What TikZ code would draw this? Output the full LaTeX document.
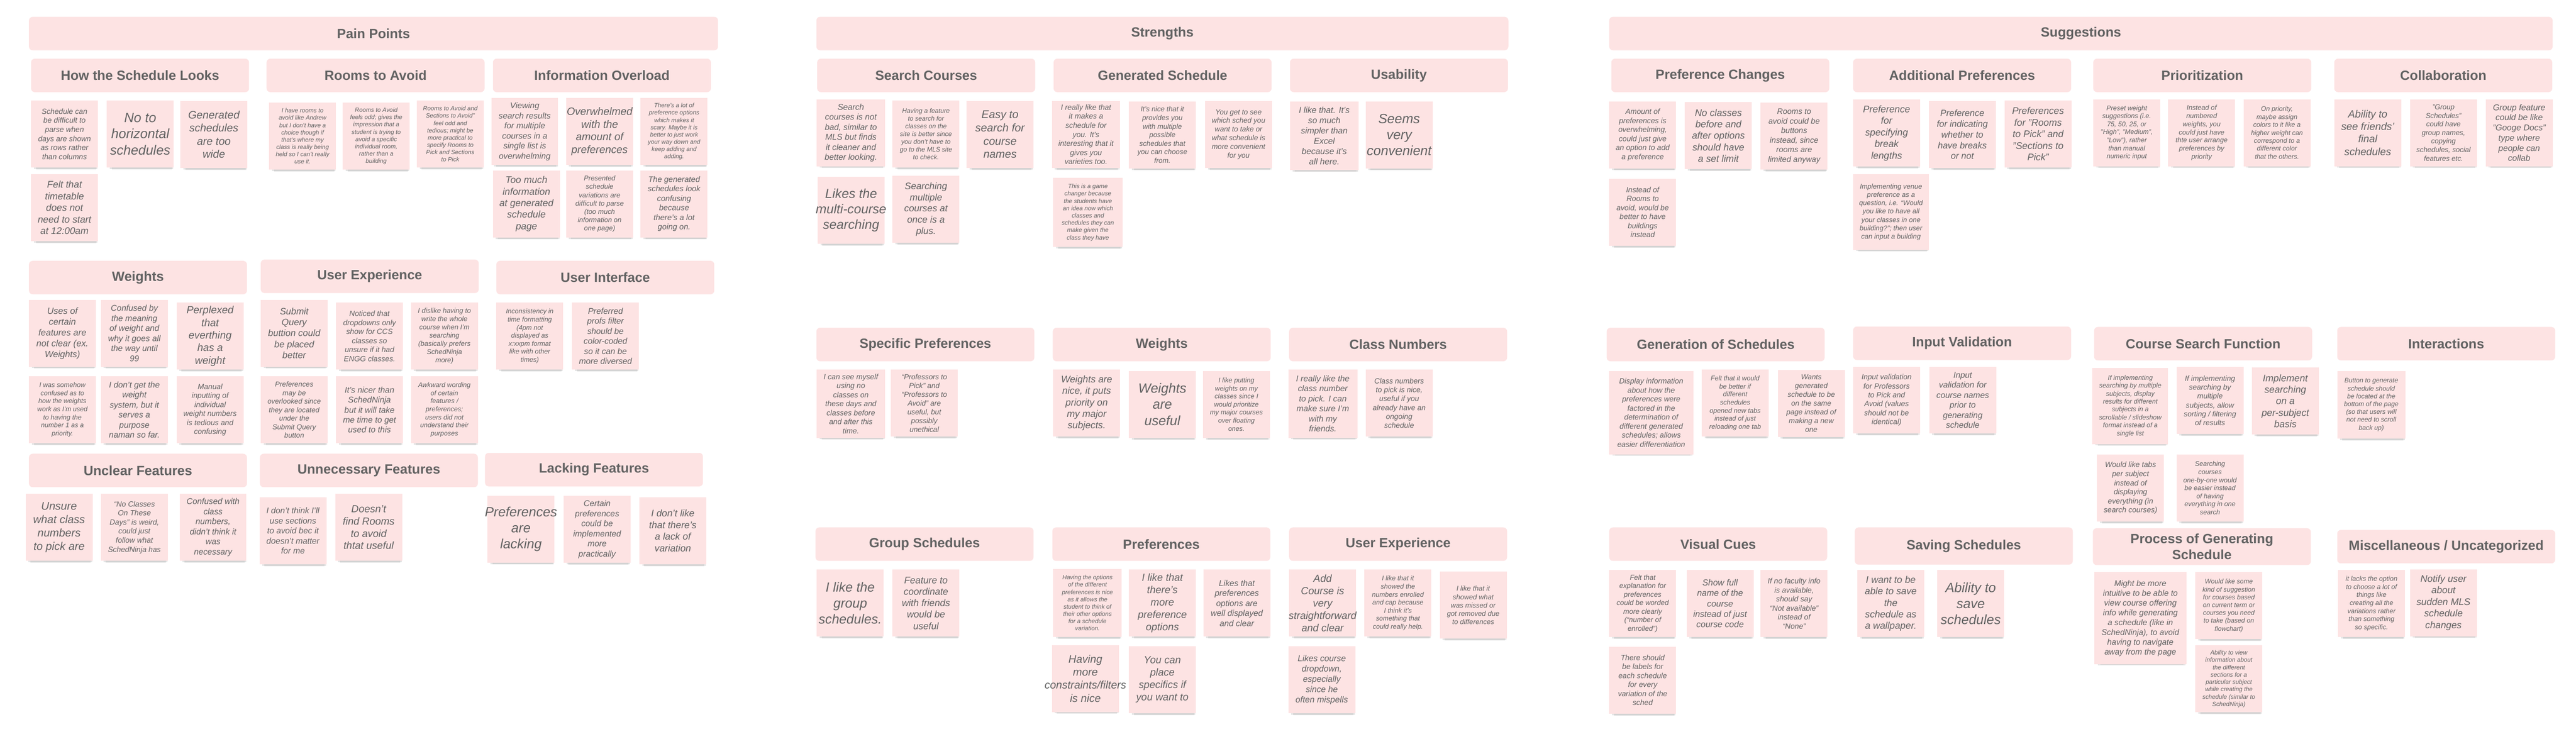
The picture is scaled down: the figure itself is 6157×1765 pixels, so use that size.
\documentclass[tikz,border=0pt]{standalone}
\usepackage{fontspec}
\setmainfont{Liberation Sans}
\usepackage{xcolor}
\usetikzlibrary{shadows}
\usetikzlibrary{positioning}
\definecolor{notepink}{RGB}{253,227,227}
\definecolor{inkgray}{RGB}{98,98,98}
\newcommand{\txtsize}[1]{\fontsize{#1}{\fpeval{1.2*#1}}\selectfont}
\newcommand{\wide}[1]{\makebox[0pt]{#1}}

\begin{document}
\begin{tikzpicture}[line cap=round,line join=round,x=1pt,y=-1pt,
  topic/.style={anchor=north west, fill=notepink, rounded corners=9pt, minimum width=521pt, minimum height=80pt, inner sep=0pt, align=center, text=inkgray, font=\bfseries\txtsize{32}},
  sticky/.style={anchor=north west, fill=notepink, minimum width=160pt, minimum height=160pt, inner sep=0pt, align=center, text=inkgray, font=\itshape\txtsize{#1},
    drop shadow={shadow xshift=3pt, shadow yshift=-8pt, shadow scale=0.95, opacity=0.10, fill=black},
    drop shadow={shadow xshift=4pt, shadow yshift=-14pt, shadow scale=0.9, opacity=0.08, fill=black}},
  sticky/.default=18]
\fill[white] (0,0) rectangle (6157,1765);
\useasboundingbox (0,0) rectangle (6157,1765);

\node[topic, minimum width=1647pt] (pain) at (69,40) {Pain Points};
\node[topic, minimum width=1654pt] (strengths) at (1951,40) {Strengths};
\node[topic, minimum width=2255pt] (suggestions) at (3846,40) {Suggestions};

\node[topic] (looks) at (74,140) {How the Schedule Looks};
\node[topic] (rooms) at (637,140) {Rooms to Avoid};
\node[topic] (overload) at (1178,140) {Information Overload};
\node[topic] (pweights) at (69,623) {Weights};
\node[topic] (pux) at (623,620) {User Experience};
\node[topic] (pui) at (1186,623) {User Interface};
\node[topic] (unclear) at (69,1084) {Unclear Features};
\node[topic] (unneeded) at (621,1084) {Unnecessary Features};
\node[topic] (lacking) at (1159,1082) {Lacking Features};

\node[sticky=18] (ph1) at (74,240) {Schedule can\\be difficult to\\parse when\\days are shown\\as rows rather\\than columns};
\node[sticky=32] (ph2) at (255,240) {No to\\horizontal\\schedules};
\node[sticky=26] (ph3) at (431,241) {Generated\\schedules\\are too\\wide};
\node[sticky=23] (ph4) at (74,416) {Felt that\\timetable\\does not\\need to start\\at 12:00am};
\node[sticky=14.5] (pr1) at (643,245) {I have rooms to\\avoid like Andrew\\but I don't have a\\choice though if\\that's where my\\class is really being\\held so I can't really\\use it.};
\node[sticky=14.5] (pr2) at (819,245) {Rooms to Avoid\\feels odd; gives the\\impression that a\\student is trying to\\avoid a specific\\individual room,\\rather than a\\building};
\node[sticky=14.5] (pr3) at (996,240) {Rooms to Avoid and\\Sections to Avoid”\\feel odd and\\tedious; might be\\more practical to\\specify Rooms to\\Pick and Sections\\to Pick};
\node[sticky=20] (pi1) at (1174,234) {Viewing\\search results\\for multiple\\courses in a\\single list is\\overwhelming};
\node[sticky=25.5] (pi2) at (1353,234) {Overwhelmed\\with the\\amount of\\preferences};
\node[sticky=14.5] (pi3) at (1531,234) {There's a lot of\\preference options\\which makes it\\scary. Maybe it is\\better to just work\\your way down and\\keep adding and\\adding.};
\node[sticky=23] (pi4) at (1178,407) {Too much\\information\\at generated\\schedule\\page};
\node[sticky=16.5] (pi5) at (1353,407) {Presented\\schedule\\variations are\\difficult to parse\\(too much\\information on\\one page)};
\node[sticky=19] (pi6) at (1531,407) {The generated\\schedules look\\confusing\\because\\there's a lot\\going on.};

\node[sticky=21.5] (pw1) at (69,716) {Uses of\\certain\\features are\\not clear (ex.\\Weights)};
\node[sticky=20] (pw2) at (241,716) {Confused by\\the meaning\\of weight and\\why it goes all\\the way until\\99};
\node[sticky=25] (pw3) at (422,723) {Perplexed\\that\\everthing\\has a\\weight};
\node[sticky=16] (pw4) at (69,899) {I was somehow\\confused as to\\how the weights\\work as I'm used\\to having the\\number 1 as a\\priority.};
\node[sticky=20] (pw5) at (241,899) {I don't get the\\weight\\system, but it\\serves a\\purpose\\naman so far.};
\node[sticky=18] (pw6) at (422,899) {Manual\\inputting of\\individual\\weight numbers\\is tedious and\\confusing};
\node[sticky=22] (pu1) at (623,716) {Submit\\Query\\buttion could\\be placed\\better};
\node[sticky=18] (pu2) at (803,723) {Noticed that\\dropdowns only\\show for CCS\\classes so\\unsure if it had\\ENGG classes.};
\node[sticky=16.5] (pu3) at (982,723) {I dislike having to\\write the whole\\course when I'm\\searching\\(basically prefers\\SchedNinja\\more)};
\node[sticky=17] (pu4) at (623,899) {Preferences\\may be\\overlooked since\\they are located\\under the\\Submit Query\\button};
\node[sticky=20] (pu5) at (803,899) {It's nicer than\\SchedNinja\\but it will take\\me time to get\\used to this};
\node[sticky=16] (pu6) at (982,899) {Awkward wording\\of certain\\features /\\preferences;\\users did not\\understand their\\purposes};
\node[sticky=16] (pf1) at (1186,723) {Inconsistency in\\time formatting\\(4pm not\\displayed as\\x:xxpm format\\like with other\\times)};
\node[sticky=20] (pf2) at (1367,723) {Preferred\\profs filter\\should be\\color-coded\\so it can be\\more diversed};

\node[sticky=26.5] (pc1) at (61,1180) {Unsure\\what class\\numbers\\to pick are};
\node[sticky=18] (pc2) at (241,1180) {“No Classes\\On These\\Days” is weird,\\could just\\follow what\\SchedNinja has};
\node[sticky=20] (pc3) at (429,1180) {Confused with\\class\\numbers,\\didn't think it\\was\\necessary};
\node[sticky=20] (pn1) at (620,1188) {I don't think I'll\\use sections\\to avoid bec it\\doesn't matter\\for me};
\node[sticky=24.5] (pn2) at (801,1180) {Doesn't\\find Rooms\\to avoid\\thtat useful};
\node[sticky=32] (pl1) at (1165,1184) {\wide{Preferences}\\are\\lacking};
\node[sticky=20] (pl2) at (1347,1185) {Certain\\preferences\\could be\\implemented\\more\\practically};
\node[sticky=23] (pl3) at (1528,1188) {I don't like\\that there's\\a lack of\\variation};

\node[topic] (search) at (1953,140) {Search Courses};
\node[topic] (generated) at (2518,140) {Generated Schedule};
\node[topic] (usability) at (3083,140) {Usability};
\node[topic] (specific) at (1951,783) {Specific Preferences};
\node[topic] (sweights) at (2516,783) {Weights};
\node[topic] (classnum) at (3081,783) {Class Numbers};
\node[topic] (group) at (1949,1260) {Group Schedules};
\node[topic] (sprefs) at (2515,1260) {Preferences};
\node[topic] (sux) at (3081,1260) {User Experience};

\node[sticky=20, minimum width=163pt] (ss1) at (1952,237) {Search\\courses is not\\bad, similar to\\MLS but finds\\it cleaner and\\better looking.};
\node[sticky=15.5] (ss2) at (2133,240) {Having a feature\\to search for\\classes on the\\site is better since\\you don't have to\\go to the MLS site\\to check.};
\node[sticky=26.5] (ss3) at (2310,241) {Easy to\\search for\\course\\names};
\node[sticky=31] (ss4) at (1954,422) {Likes the\\\wide{multi-course}\\searching};
\node[sticky=22.5] (ss5) at (2133,420) {Searching\\multiple\\courses at\\once is a\\plus.};
\node[sticky=18, minimum width=163pt] (sg1) at (2514,241) {I really like that\\it makes a\\schedule for\\you. It's\\interesting that it\\gives you\\varieties too.};
\node[sticky=17] (sg2) at (2698,242) {It's nice that it\\provides you\\with multiple\\possible\\schedules that\\you can choose\\from.};
\node[sticky=17.3] (sg3) at (2880,241) {You get to see\\which sched you\\want to take or\\what schedule is\\more convenient\\for you};
\node[sticky=14.6, minimum width=166pt, minimum height=165pt] (sg4) at (2517,425) {This is a game\\changer because\\the students have\\an idea now which\\classes and\\schedules they can\\make given the\\class they have};
\node[sticky=20.5, minimum width=164pt, minimum height=164pt] (su1) at (3083,242) {I like that. It's\\so much\\simpler than\\Excel\\because it's\\all here.};
\node[sticky=32] (su2) at (3264,242) {Seems\\very\\\wide{convenient}};

\node[sticky=18, minimum width=163pt, minimum height=163pt] (sp1) at (1952,883) {I can see myself\\using no\\classes on\\these days and\\classes before\\and after this\\time.};
\node[sticky=17.5] (sp2) at (2129,883) {“Professors to\\Pick” and\\“Professors to\\Avoid” are\\useful, but\\possibly\\unethical};
\node[sticky=23] (sw1) at (2517,883) {Weights are\\nice, it puts\\priority on\\my major\\subjects.};
\node[sticky=32] (sw2) at (2698,886) {Weights\\are\\useful};
\node[sticky=16] (sw3) at (2875,886) {I like putting\\weights on my\\classes since I\\would prioritize\\my major courses\\over floating\\ones.};
\node[sticky=20, minimum width=165pt, minimum height=163pt] (sc1) at (3079,883) {I really like the\\class number\\to pick. I can\\make sure I'm\\with my\\friends.};
\node[sticky=17.8] (sc2) at (3264,883) {Class numbers\\to pick is nice,\\useful if you\\already have an\\ongoing\\schedule};

\node[sticky=31.5] (sr1) at (1952,1361) {I like the\\group\\schedules.};
\node[sticky=22.8] (sr2) at (2133,1361) {Feature to\\coordinate\\with friends\\would be\\useful};
\node[sticky=14.5, minimum width=164pt, minimum height=163pt] (se1) at (2517,1359) {Having the options\\of the different\\preferences is nice\\as it allows the\\student to think of\\their other options\\for a schedule\\variation.};
\node[sticky=24.5] (se2) at (2698,1361) {I like that\\there's\\more\\preference\\options};
\node[sticky=20] (se3) at (2876,1361) {Likes that\\preferences\\options are\\well displayed\\and clear};
\node[sticky=26] (se4) at (2514,1541) {Having\\more\\\wide{constraints/filters}\\is nice};
\node[sticky=24.5] (se5) at (2698,1544) {You can\\place\\specifics if\\you want to};
\node[sticky=24.5] (sx1) at (3081,1361) {Add\\Course is\\very\\\wide{straightforward}\\and clear};
\node[sticky=16] (sx2) at (3261,1361) {I like that it\\showed the\\numbers enrolled\\and cap because\\I think it's\\something that\\could really help.};
\node[sticky=16.7] (sx3) at (3441,1366) {I like that it\\showed what\\was missed or\\got removed due\\to differences};
\node[sticky=20.5] (sx4) at (3079,1544) {Likes course\\dropdown,\\especially\\since he\\often mispells};

\node[topic] (prefchange) at (3851,140) {Preference Changes};
\node[topic] (addprefs) at (4429,140) {Additional Preferences};
\node[topic] (priority) at (5003,140) {Prioritization};
\node[topic] (collab) at (5579,140) {Collaboration};
\node[topic] (genofsched) at (3840,783) {Generation of Schedules};
\node[topic] (validation) at (4429,780) {Input Validation};
\node[topic] (coursesearch) at (5005,781) {Course Search Function};
\node[topic] (interact) at (5586,781) {Interactions};
\node[topic] (cues) at (3846,1260) {Visual Cues};
\node[topic, minimum height=89pt] (saving) at (4433,1260) {Saving Schedules};
\node[topic, minimum height=88pt] (process) at (5002,1262) {Process of Generating\\Schedule};
\node[topic] (misc) at (5586,1266) {Miscellaneous / Uncategorized};

\node[sticky=18] (gp1) at (3846,242) {Amount of\\preferences is\\overwhelming,\\could just give\\an option to add\\a preference};
\node[sticky=23] (gp2) at (4027,244) {No classes\\before and\\after options\\should have\\a set limit};
\node[sticky=19] (gp3) at (4208,245) {Rooms to\\avoid could be\\buttons\\instead, since\\rooms are\\limited anyway};
\node[sticky=18] (gp4) at (3846,427) {Instead of\\Rooms to\\avoid, would be\\better to have\\buildings\\instead};
\node[sticky=23] (ga1) at (4429,238) {Preference\\for\\specifying\\break\\lengths};
\node[sticky=21.5] (ga2) at (4610,241) {Preference\\for indicating\\whether to\\have breaks\\or not};
\node[sticky=23] (ga3) at (4791,240) {Preferences\\for "Rooms\\to Pick" and\\"Sections to\\Pick"};
\node[sticky=16.5, minimum width=181pt, minimum height=181pt] (ga4) at (4429,416) {Implementing venue\\preference as a\\question, i.e. “Would\\you like to have all\\your classes in one\\building?”; then user\\can input a building};
\node[sticky=16] (gr1) at (5003,237) {Preset weight\\suggestions (i.e.\\75, 50, 25, or\\"High", "Medium",\\"Low"), rather\\than manual\\numeric input};
\node[sticky=16.3] (gr2) at (5182,237) {Instead of\\numbered\\weights, you\\could just have\\thte user arrange\\preferences by\\priority};
\node[sticky=15.8] (gr3) at (5362,237) {On priority,\\maybe assign\\colors to it like a\\higher weight can\\correspond to a\\different color\\that the others.};
\node[sticky=24.8] (gc1) at (5579,237) {Ability to\\see friends'\\final\\schedules};
\node[sticky=17] (gc2) at (5760,237) {"Group\\Schedules"\\could have\\group names,\\copying\\schedules, social\\features etc.};
\node[sticky=20.3] (gc3) at (5941,237) {Group feature\\could be like\\"Googe Docs"\\type where\\people can\\collab};

\node[sticky=18, minimum width=201pt, minimum height=200pt] (gg1) at (3846,886) {Display information\\about how the\\preferences were\\factored in the\\determination of\\different generated\\schedules; allows\\easier differentiation};
\node[sticky=16] (gg2) at (4067,883) {Felt that it would\\be better if\\different\\schedules\\opened new tabs\\instead of just\\reloading one tab};
\node[sticky=17.4] (gg3) at (4249,884) {Wants\\generated\\schedule to be\\on the same\\page instead of\\making a new\\one};
\node[sticky=17.8] (gv1) at (4429,876) {Input validation\\for Professors\\to Pick and\\Avoid (values\\should not be\\identical)};
\node[sticky=20] (gv2) at (4611,876) {Input\\validation for\\course names\\prior to\\generating\\schedule};
\node[sticky=15.8, minimum width=181pt, minimum height=182pt] (gs1) at (5001,879) {If implementing\\searching by multiple\\subjects, display\\results for different\\subjects in a\\scrollable / slideshow\\format instead of a\\single list};
\node[sticky=17.7] (gs2) at (5202,877) {If implementing\\searching by\\multiple\\subjects, allow\\sorting / filtering\\of results};
\node[sticky=23] (gs3) at (5382,878) {Implement\\searching\\on a\\per-subject\\basis};
\node[sticky=18] (gs4) at (5012,1086) {Would like tabs\\per subject\\instead of\\displaying\\everything (in\\search courses)};
\node[sticky=16] (gs5) at (5202,1086) {Searching\\courses\\one-by-one would\\be easier instead\\of having\\everything in one\\search};
\node[sticky=15.6, minimum width=163pt, minimum height=162pt] (gi1) at (5586,886) {Button to generate\\schedule should\\be located at the\\bottom of the page\\(so that users will\\not need to scroll\\back up)};

\node[sticky=17] (gq1) at (3846,1362) {Felt that\\explanation for\\preferences\\could be worded\\more clearly\\(“number of\\enrolled”)};
\node[sticky=20.8] (gq2) at (4031,1362) {Show full\\name of the\\course\\instead of just\\course code};
\node[sticky=18] (gq3) at (4208,1362) {If no faculty info\\is available,\\should say\\“Not available”\\instead of\\“None”};
\node[sticky=18] (gq4) at (3846,1545) {There should\\be labels for\\each schedule\\for every\\variation of the\\sched};
\node[sticky=23] (gw1) at (4439,1362) {I want to be\\able to save\\the\\schedule as\\a wallpaper.};
\node[sticky=32] (gw2) at (4630,1362) {Ability to\\save\\schedules};
\node[sticky=19.5, minimum width=221pt, minimum height=220pt] (gk1) at (5005,1367) {Might be more\\intuitive to be able to\\view course offering\\info while generating\\a schedule (like in\\SchedNinja), to avoid\\having to navigate\\away from the page};
\node[sticky=15.6] (gk2) at (5247,1367) {Would like some\\kind of suggestion\\for courses based\\on current term or\\courses you need\\to take (based on\\flowchart)};
\node[sticky=14.6] (gk3) at (5247,1542) {Ability to view\\information about\\the different\\sections for a\\particular subject\\while creating the\\schedule (similar to\\SchedNinja)};
\node[sticky=16] (gm1) at (5588,1362) {it lacks the option\\to choose a lot of\\things like\\creating all the\\variations rather\\than something\\so specific.};
\node[sticky=23] (gm2) at (5760,1360) {Notify user\\about\\sudden MLS\\schedule\\changes};
\end{tikzpicture}
\end{document}
